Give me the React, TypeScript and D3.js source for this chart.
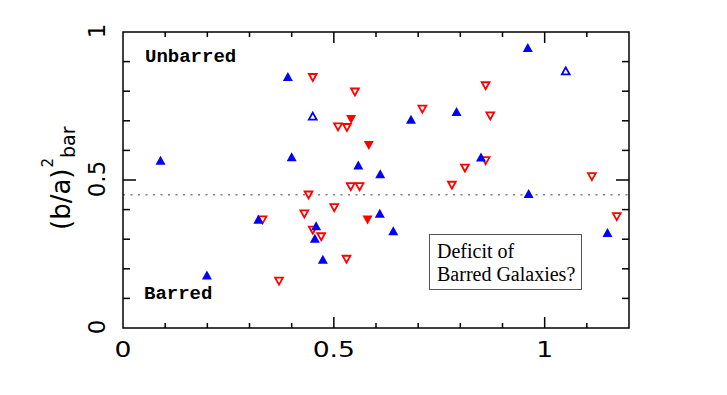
import { useEffect, useRef } from "react";
import * as d3 from "d3";

// Points: [x, (b/a)^2_bar]
const blueFilled: [number, number][] = [
  [0.089, 0.566], [0.199, 0.179], [0.321, 0.367], [0.391, 0.849],
  [0.400, 0.578], [0.455, 0.303], [0.458, 0.345], [0.474, 0.232],
  [0.558, 0.550], [0.609, 0.387], [0.610, 0.521], [0.641, 0.328],
  [0.683, 0.705], [0.791, 0.731], [0.849, 0.577], [0.960, 0.947],
  [0.962, 0.454], [1.149, 0.322],
];
const blueOpen: [number, number][] = [
  [0.450, 0.716], [1.050, 0.869],
];
const redOpen: [number, number][] = [
  [0.331, 0.365], [0.370, 0.158], [0.430, 0.385], [0.440, 0.449],
  [0.450, 0.846], [0.450, 0.330], [0.470, 0.308], [0.501, 0.406],
  [0.510, 0.679], [0.530, 0.232], [0.531, 0.677], [0.540, 0.477],
  [0.550, 0.797], [0.561, 0.477], [0.710, 0.739], [0.780, 0.482],
  [0.811, 0.540], [0.860, 0.818], [0.860, 0.565], [0.871, 0.716],
  [1.112, 0.511], [1.171, 0.376],
];
const redFilled: [number, number][] = [
  [0.541, 0.705], [0.583, 0.617], [0.580, 0.365],
];

const xTickLabels = [0, 0.5, 1];
const yTickLabels = [0, 0.5, 1];
const divideLine = 0.45;

const W = 727;
const H = 395;

export default function App() {
  const svgRef = useRef<SVGSVGElement>(null);

  useEffect(() => {
    const svg = d3.select(svgRef.current);
    svg.selectAll("*").remove();

    const left = 123, right = 629, top = 32, bottom = 328;
    const x = d3.scaleLinear().domain([0, 1.2]).range([left, right]);
    const y = d3.scaleLinear().domain([0, 1]).range([bottom, top]);

    const font = "'DejaVu Sans', sans-serif";

    // dotted divider
    svg.append("line")
      .attr("x1", left).attr("x2", right)
      .attr("y1", y(divideLine)).attr("y2", y(divideLine))
      .attr("stroke", "#808080")
      .attr("stroke-width", 1.5)
      .attr("stroke-dasharray", "2,5.5");

    // ticks on all four sides
    const xt = d3.range(1, 12).map((i) => i / 10);
    const yt = d3.range(1, 10).map((i) => i / 10);
    const isMajor = (v: number) => Math.abs(v - 0.5) < 1e-6 || Math.abs(v - 1) < 1e-6;
    const tickG = svg.append("g").attr("stroke", "#000").attr("stroke-width", 1.5);
    xt.forEach((v) => {
      const len = isMajor(v) ? 11 : 5;
      tickG.append("line").attr("x1", x(v)).attr("x2", x(v)).attr("y1", bottom).attr("y2", bottom - len);
      tickG.append("line").attr("x1", x(v)).attr("x2", x(v)).attr("y1", top).attr("y2", top + len);
    });
    yt.forEach((v) => {
      const len = isMajor(v) ? 13 : 7;
      tickG.append("line").attr("x1", left).attr("x2", left + len).attr("y1", y(v)).attr("y2", y(v));
      tickG.append("line").attr("x1", right).attr("x2", right - len).attr("y1", y(v)).attr("y2", y(v));
    });

    // frame
    svg.append("rect")
      .attr("x", left).attr("y", top)
      .attr("width", right - left).attr("height", bottom - top)
      .attr("fill", "none")
      .attr("stroke", "#000")
      .attr("stroke-width", 1.5);

    // x tick labels (wide, stretched glyphs)
    xTickLabels.forEach((v) => {
      svg.append("text")
        .attr("transform", `translate(${x(v)},357) scale(1.3,1)`)
        .attr("text-anchor", "middle")
        .attr("font-family", font)
        .attr("font-size", 20.5)
        .text(String(v));
    });

    // y tick labels, rotated
    yTickLabels.forEach((v) => {
      svg.append("text")
        .attr("transform", `translate(105,${y(v) - 1}) rotate(-90)`)
        .attr("text-anchor", "middle")
        .attr("font-family", font)
        .attr("font-size", 23)
        .text(String(v));
    });

    // y axis title: (b/a)^2_bar
    const yt2 = svg.append("text")
      .attr("transform", "translate(70,230) rotate(-90)")
      .attr("font-family", font)
      .attr("font-size", 26);
    yt2.append("tspan").text("(b/a)");
    yt2.append("tspan").attr("font-size", 15).attr("dy", -17).attr("dx", 1).text("2");
    yt2.append("tspan").attr("font-size", 19).attr("dy", 22).text("bar");

    // corner notes
    const mono = "'Liberation Mono', 'Courier New', monospace";
    svg.append("text").attr("x", 145).attr("y", 62)
      .attr("font-family", mono).attr("font-weight", "bold").attr("font-size", 19)
      .text("Unbarred");
    svg.append("text").attr("x", 144).attr("y", 299)
      .attr("font-family", mono).attr("font-weight", "bold").attr("font-size", 19)
      .text("Barred");

    // question box
    svg.append("rect")
      .attr("x", 429.5).attr("y", 234.5)
      .attr("width", 152).attr("height", 55)
      .attr("fill", "#fff")
      .attr("stroke", "#555")
      .attr("stroke-width", 1);
    const serif = "'Liberation Serif', 'Times New Roman', serif";
    svg.append("text").attr("x", 437).attr("y", 258)
      .attr("font-family", serif).attr("font-size", 20)
      .text("Deficit of");
    svg.append("text").attr("x", 437).attr("y", 281)
      .attr("font-family", serif).attr("font-size", 20)
      .text("Barred Galaxies?");

    // markers
    const up = "M0,-4.6L5,4.4L-5,4.4Z";
    const upOpen = "M0,-3.4L3.9,3.6L-3.9,3.6Z";
    const down = "M0,4.6L5,-4.4L-5,-4.4Z";
    const downOpen = "M0,3.4L3.9,-3.6L-3.9,-3.6Z";

    const drawSeries = (data: [number, number][], d: string, color: string, filled: boolean) => {
      svg.append("g").selectAll("path")
        .data(data)
        .join("path")
        .attr("transform", (p) => `translate(${x(p[0])},${y(p[1])})`)
        .attr("d", d)
        .attr("fill", filled ? color : "none")
        .attr("stroke", filled ? "none" : color)
        .attr("stroke-width", filled ? 0 : 1.8)
        .attr("stroke-linejoin", "miter");
    };

    drawSeries(redOpen, downOpen, "#ff0000", false);
    drawSeries(redFilled, down, "#ff0000", true);
    drawSeries(blueFilled, up, "#0000ff", true);
    drawSeries(blueOpen, upOpen, "#0000ff", false);
  }, []);

  return (
    <div style={{ position: "absolute", left: 0, top: 0 }}>
      <svg ref={svgRef} width={W} height={H} style={{ display: "block", background: "#fff" }} />
    </div>
  );
}
